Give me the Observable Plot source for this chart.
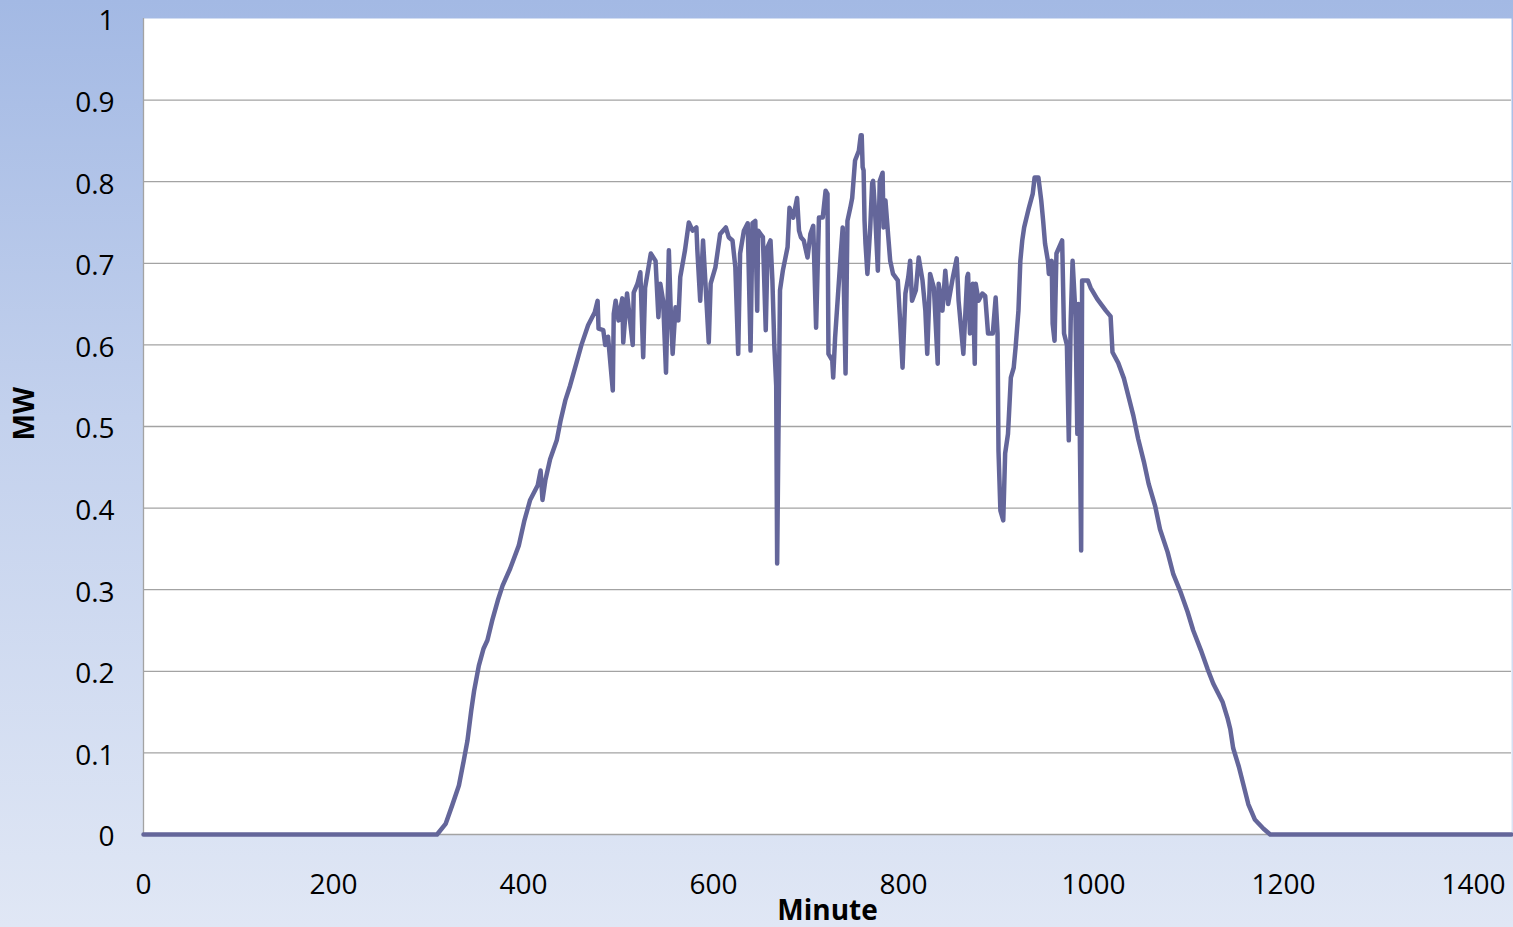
<!DOCTYPE html>
<html><head><meta charset="utf-8">
<script src="https://cdn.jsdelivr.net/npm/d3@7"></script>
<script src="https://cdn.jsdelivr.net/npm/@observablehq/plot@0.6"></script>
<style>
html,body{margin:0;padding:0;background:#dfe6f4;}
#chart{width:1513px;height:927px;overflow:hidden;background:linear-gradient(to bottom,#a3b9e4 0%,#c3d1ed 45%,#e0e7f5 100%);}
#chart svg{display:block;}
</style></head><body><div id="chart"></div>
<script>
const xTicks = [0, 200, 400, 600, 800, 1000, 1200, 1400];
const yTicks = [0, 0.1, 0.2, 0.3, 0.4, 0.5, 0.6, 0.7, 0.8, 0.9, 1];
const gridLevels = [0.1, 0.2, 0.3, 0.4, 0.5, 0.6, 0.7, 0.8, 0.9];
const xTitle = "Minute";
const yTitle = "MW";
// [minute, MW]
const readings = [
[0,0],[309,0],[318,0.013],[325,0.036],[332,0.06],[337,0.09],[341,0.115],[345,0.152],[348,0.176],[353,0.207],
[358,0.228],[362,0.238],[367,0.262],[373,0.287],[378,0.305],[386,0.326],[395,0.354],[401,0.385],[407,0.41],[415,0.428],
[418,0.446],[420,0.41],[423,0.434],[428,0.46],[435,0.483],[439,0.507],[444,0.532],[449,0.55],[455,0.575],[461,0.6],
[468,0.624],[475,0.64],[478,0.654],[479,0.62],[484,0.618],[486,0.6],[489,0.61],[494,0.544],[495,0.638],[497,0.654],
[500,0.63],[504,0.657],[505,0.603],[509,0.663],[515,0.6],[516,0.664],[520,0.675],[523,0.689],[526,0.585],[528,0.67],
[534,0.712],[539,0.703],[542,0.634],[544,0.675],[547,0.654],[550,0.566],[553,0.716],[555,0.642],[557,0.589],[560,0.646],
[563,0.63],[565,0.683],[570,0.716],[574,0.75],[578,0.74],[582,0.744],[583,0.716],[586,0.654],[589,0.728],[595,0.603],
[597,0.675],[602,0.695],[607,0.736],[613,0.744],[616,0.732],[620,0.728],[623,0.695],[626,0.589],[628,0.712],[632,0.74],
[636,0.749],[639,0.593],[641,0.749],[644,0.752],[646,0.642],[647,0.74],[652,0.732],[655,0.618],[657,0.72],[660,0.728],
[662,0.679],[664,0.6],[666,0.55],[667,0.332],[668,0.45],[670,0.667],[673,0.691],[678,0.72],[680,0.768],[684,0.756],
[688,0.78],[690,0.74],[692,0.732],[695,0.728],[699,0.707],[702,0.736],[705,0.746],[708,0.621],[711,0.756],[715,0.756],
[718,0.789],[720,0.785],[721,0.589],[725,0.581],[726,0.56],[728,0.609],[734,0.712],[736,0.744],[739,0.565],[741,0.752],
[744,0.768],[746,0.78],[749,0.826],[753,0.838],[755,0.857],[756,0.857],[757,0.818],[758,0.814],[759,0.752],[760,0.724],
[762,0.687],[765,0.744],[767,0.798],[768,0.801],[770,0.765],[773,0.691],[775,0.801],[778,0.811],[779,0.744],[781,0.777],
[784,0.732],[786,0.703],[789,0.687],[794,0.679],[796,0.638],[799,0.572],[802,0.663],[805,0.683],[807,0.703],[809,0.654],
[813,0.667],[816,0.707],[820,0.679],[823,0.642],[825,0.589],[828,0.687],[832,0.67],[836,0.577],[837,0.675],[841,0.642],
[844,0.691],[847,0.65],[852,0.683],[856,0.706],[858,0.654],[863,0.589],[867,0.683],[868,0.687],[870,0.614],[873,0.675],
[875,0.577],[876,0.675],[879,0.654],[883,0.663],[886,0.66],[889,0.614],[894,0.614],[897,0.658],[899,0.614],[900,0.47],
[902,0.397],[905,0.385],[907,0.467],[910,0.491],[913,0.56],[916,0.572],[918,0.597],[921,0.642],[923,0.703],[925,0.728],
[927,0.744],[932,0.768],[936,0.785],[938,0.805],[942,0.805],[945,0.777],[947,0.752],[949,0.724],[952,0.703],[953,0.687],
[956,0.703],[957,0.626],[959,0.605],[961,0.712],[964,0.72],[967,0.728],[969,0.614],[972,0.6],[974,0.483],[976,0.63],
[978,0.703],[981,0.638],[983,0.491],[984,0.65],[987,0.348],[988,0.679],[994,0.679],[997,0.67],[1004,0.656],[1013,0.642],
[1018,0.635],[1020,0.591],[1026,0.578],[1032,0.559],[1037,0.536],[1042,0.513],[1047,0.485],[1053,0.457],[1058,0.43],[1065,0.402],
[1070,0.374],[1078,0.346],[1084,0.319],[1092,0.296],[1099,0.273],[1105,0.25],[1113,0.226],[1120,0.203],[1126,0.185],[1136,0.162],
[1141,0.143],[1144,0.129],[1147,0.106],[1153,0.083],[1158,0.06],[1163,0.037],[1170,0.018],[1179,0.007],[1186,0],[1440,0]
];
const data = readings.map(([minute, mw]) => ({minute, mw}));
const font = "'Open Sans', sans-serif";
const chart = Plot.plot({
  width: 1513,
  height: 927,
  marginLeft: 143,
  marginRight: 2,
  marginTop: 18,
  marginBottom: 93,
  style: {background: "transparent", fontFamily: font, fontSize: "28px", color: "#000", overflow: "visible"},
  x: {domain: [0, 1440]},
  y: {domain: [0, 1]},
  marks: [
    Plot.frame({fill: "white", stroke: null}),
    Plot.ruleY(gridLevels, {stroke: "#a3a3a3", strokeWidth: 1.3}),
    Plot.ruleX([0], {stroke: "#a3a3a3", strokeWidth: 1.3}),
    Plot.ruleY([0], {stroke: "#a3a3a3", strokeWidth: 1.3}),
    Plot.line(data, {x: "minute", y: "mw", stroke: "#64669a", strokeWidth: 4.5, strokeLinejoin: "round", strokeLinecap: "round"}),
    Plot.axisY(yTicks, {tickSize: 0, tickPadding: 29, dy: 3, label: null, tickFormat: d => String(d), fontSize: 28, fill: "#000"}),
    Plot.axisX(xTicks, {tickSize: 0, tickPadding: 40, label: null, tickFormat: d => String(d), fontSize: 28, fill: "#000"}),
    Plot.text([xTitle], {frameAnchor: "bottom", dy: 85, fontWeight: "bold", fontSize: 28, letterSpacing: "0.5px", fill: "#000"}),
    Plot.text([yTitle], {frameAnchor: "left", dx: -118, dy: 14, rotate: -90, fontWeight: "bold", fontSize: 28, fill: "#000"})
  ]
});
document.getElementById("chart").appendChild(chart);
</script>
</body></html>
